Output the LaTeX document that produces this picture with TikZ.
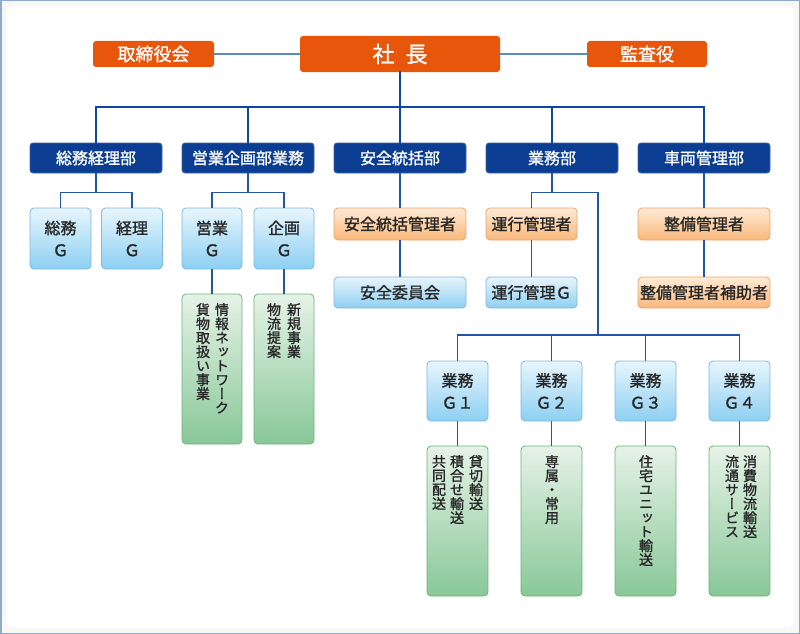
\documentclass[tikz,border=0pt]{standalone}
\usepackage{fontspec}
\newfontfamily\jp[FakeBold=1.2]{Noto Sans CJK JP}
\newfontfamily\vjp[RawFeature=+vert,FakeBold=1.2]{Noto Sans CJK JP}
\definecolor{orgT}{HTML}{E8560C}
\definecolor{deptB}{HTML}{0B3E92}
\definecolor{lbT}{HTML}{E8F5FC}
\definecolor{lbB}{HTML}{8DD0F2}
\definecolor{lbD}{HTML}{7FB8E0}
\definecolor{obT}{HTML}{FEEBD6}
\definecolor{obB}{HTML}{F9B77A}
\definecolor{obD}{HTML}{F2A36A}
\definecolor{gbT}{HTML}{E6F2E7}
\definecolor{gbB}{HTML}{88C898}
\definecolor{gbD}{HTML}{6CB47E}
\definecolor{txt}{HTML}{262626}
\definecolor{busC}{HTML}{0D47A1}
\definecolor{thinC}{HTML}{2456A8}
\definecolor{sideC}{HTML}{5B8AC8}
\definecolor{frameC}{HTML}{8FA8D0}
\definecolor{bgC}{HTML}{F7F7F7}
\tikzset{
  topbox/.style={fill=orgT, rounded corners=3pt, text=white, inner sep=0pt, font=\jp\fontsize{18}{20}\selectfont},
  deptbox/.style={fill=deptB, draw=deptB!80!white, line width=0.8pt, rounded corners=3pt, text=white, inner sep=0pt, minimum width=132pt, minimum height=30pt, font=\jp\fontsize{16}{18}\selectfont},
  lbbox/.style={top color=lbT, bottom color=lbB, draw=lbD, line width=0.8pt, rounded corners=4pt, text=txt, inner sep=0pt, align=center, font=\jp\fontsize{16}{22}\selectfont},
  obbox/.style={top color=obT, bottom color=obB, draw=obD, line width=0.8pt, rounded corners=4pt, text=txt, inner sep=0pt, font=\jp\fontsize{16}{18}\selectfont},
  gbbox/.style={top color=gbT, bottom color=gbB, draw=gbD, line width=0.8pt, rounded corners=4pt, inner sep=0pt, minimum width=61pt, minimum height=150pt},
  vcol/.style={anchor=north, inner sep=0pt, align=center, text=txt, font=\vjp\fontsize{14}{14}\selectfont},
  busline/.style={draw=busC, line width=2.4pt, line cap=round},
  thinline/.style={draw=thinC, line width=1.4pt},
  sideline/.style={draw=sideC, line width=1.8pt}
}
\begin{document}
\begin{tikzpicture}[x=1pt,y=-1pt]
\useasboundingbox (0,0) rectangle (800,634);
% background frame
\fill[bgC] (0,0) rectangle (800,634);
\draw[frameC, line width=1.5pt] (0.75,0.75) rectangle (799.25,633.25);
\fill[white, rounded corners=8pt] (6,6) rectangle (794,628);

% top row
\node[topbox, minimum width=121pt, minimum height=26pt] (tori) at (153.5,54) {取締役会};
\node[topbox, minimum width=200pt, minimum height=36pt, font=\jp\fontsize{22}{24}\selectfont] (shacho) at (400,54) {社\hspace{0.5em}長};
\node[topbox, minimum width=120pt, minimum height=26pt] (kansa) at (647,54) {監査役};

% departments
\node[deptbox] (d1) at (96,158) {総務経理部};
\node[deptbox] (d2) at (248,158) {営業企画部業務};
\node[deptbox] (d3) at (400,158) {安全統括部};
\node[deptbox] (d4) at (552,158) {業務部};
\node[deptbox] (d5) at (704,158) {車両管理部};

% groups under d1, d2
\node[lbbox, minimum width=61pt, minimum height=61pt] (sg) at (60.5,238.5) {総務\\Ｇ};
\node[lbbox, minimum width=61pt, minimum height=61pt] (kg) at (132,238.5) {経理\\Ｇ};
\node[lbbox, minimum width=60pt, minimum height=61pt] (eg) at (212,238.5) {営業\\Ｇ};
\node[lbbox, minimum width=60pt, minimum height=61pt] (pg) at (284,238.5) {企画\\Ｇ};

% d3
\node[obbox, minimum width=132pt, minimum height=32pt] (a1) at (400,224) {安全統括管理者};
\node[lbbox, minimum width=132pt, minimum height=31pt] (a2) at (400,292.5) {安全委員会};
% d4
\node[obbox, minimum width=91pt, minimum height=32pt] (u1) at (531.5,224) {運行管理者};
\node[lbbox, minimum width=91pt, minimum height=31pt] (u2) at (531.5,292.5) {運行管理Ｇ};
% d5
\node[obbox, minimum width=132pt, minimum height=32pt] (s1) at (704,224) {整備管理者};
\node[obbox, minimum width=132pt, minimum height=31pt] (s2) at (704,292.5) {整備管理者補助者};

% green boxes under eg, pg
\node[gbbox, minimum width=60pt] (ge) at (212,369) {};
\node[gbbox, minimum width=60pt] (gp) at (284,369) {};
\node[vcol] (ge1) at (222,303) {情\\報\\ネ\\ッ\\ト\\ワ\\ー\\ク};
\node[vcol] (ge2) at (203,303) {貨\\物\\取\\扱\\い\\事\\業};
\node[vcol] (gp1) at (294,303) {新\\規\\事\\業};
\node[vcol] (gp2) at (274,303) {物\\流\\提\\案};

% business groups
\node[lbbox, minimum width=61pt, minimum height=60pt] (b1) at (457.5,391) {業務\\Ｇ１};
\node[lbbox, minimum width=61pt, minimum height=60pt] (b2) at (551.5,391) {業務\\Ｇ２};
\node[lbbox, minimum width=61pt, minimum height=60pt] (b3) at (645.5,391) {業務\\Ｇ３};
\node[lbbox, minimum width=61pt, minimum height=60pt] (b4) at (739.5,391) {業務\\Ｇ４};

\node[gbbox] (g1) at (457.5,521) {};
\node[gbbox] (g2) at (551.5,521) {};
\node[gbbox] (g3) at (645.5,521) {};
\node[gbbox] (g4) at (739.5,521) {};
\node[vcol] (g1a) at (476,455) {貸\\切\\輸\\送};
\node[vcol] (g1b) at (457,455) {積\\合\\せ\\輸\\送};
\node[vcol] (g1c) at (439,455) {共\\同\\配\\送};
\node[vcol] (g2a) at (552,455) {専\\属\\・\\常\\用};
\node[vcol] (g3a) at (646,455) {住\\宅\\ユ\\ニ\\ッ\\ト\\輸\\送};
\node[vcol] (g4a) at (750,455) {消\\費\\物\\流\\輸\\送};
\node[vcol] (g4b) at (732,455) {流\\通\\サ\\ー\\ビ\\ス};

% connectors: top
\draw[sideline] (tori.east) -- (shacho.west);
\draw[sideline] (shacho.east) -- (kansa.west);
\coordinate (bus) at (400,107);
\draw[busline] (d1.north) |- (bus) -| (d5.north);
\draw[busline] (shacho.south) -- (d3.north);
\draw[busline] (bus) -| (d2.north);
\draw[busline] (bus) -| (d4.north);

% d1, d2 splits
\draw[thinline] (d1.south) -- ++(0,19) coordinate (j1);
\draw[thinline] (sg.north) |- (j1) -| (kg.north);
\draw[thinline] (d2.south) -- ++(0,19) coordinate (j2);
\draw[thinline] (eg.north) |- (j2) -| (pg.north);
\draw[thinline] (eg.south) -- (ge.north);
\draw[thinline] (pg.south) -- (gp.north);

% d3
\draw[thinline] (d3.south) -- (a1.north);
\draw[thinline] (a1.south) -- (a2.north);
% d4
\draw[thinline] (d4.south) -- ++(0,19) coordinate (j4);
\coordinate (gb) at (598,335);
\draw[thinline] (u1.north) |- (j4) -| (gb);
\draw[thinline] (u1.south) -- (u2.north);
\draw[thinline] (b1.north) |- (gb) -| (b4.north);
\draw[thinline] (gb) -| (b2.north);
\draw[thinline] (gb) -| (b3.north);
\draw[thinline] (b1.south) -- (g1.north);
\draw[thinline] (b2.south) -- (g2.north);
\draw[thinline] (b3.south) -- (g3.north);
\draw[thinline] (b4.south) -- (g4.north);
% d5
\draw[thinline] (d5.south) -- (s1.north);
\draw[thinline] (s1.south) -- (s2.north);
\end{tikzpicture}
\end{document}
